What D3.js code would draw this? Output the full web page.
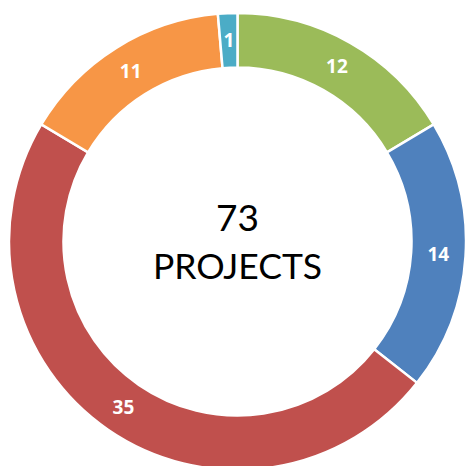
<!DOCTYPE html>
<html>
<head>
<meta charset="utf-8">
<script src="https://cdn.jsdelivr.net/npm/d3@7"></script>
<style>
body{margin:0;background:#fff;}
</style>
</head>
<body>
<svg></svg>
<script>
// slice data, clockwise from 12 o'clock
var labels = ["A","B","C","D","E"];
var counts = [12,14,35,11,1];
var colors = ["#9BBB59","#4F81BD","#C0504D","#F79646","#4BACC6"];
var centerLines = ["73","PROJECTS"];

var screen = {width:468,height:466};
var cx = 237.5, cy = 241.5;
var outerR = 228.5, innerR = 174;

var svg = d3.select("svg")
    .attr("width",screen.width)
    .attr("height",screen.height);

var target = svg.append("g")
    .attr("transform","translate("+cx+","+cy+")");

var pie = d3.pie().sort(null).value(function(d){return d;});
var arcGen = d3.arc().innerRadius(innerR).outerRadius(outerR);
var labelArc = d3.arc().innerRadius((innerR+outerR)/2).outerRadius((innerR+outerR)/2);

var slices = pie(counts);

target.selectAll("path")
    .data(slices)
    .enter()
    .append("path")
    .attr("d",arcGen)
    .attr("fill",function(d,i){return colors[i];})
    .attr("stroke","#fff")
    .attr("stroke-width",2.5);

target.selectAll("text.lab")
    .data(slices)
    .enter()
    .append("text")
    .attr("class","lab")
    .attr("transform",function(d){
        var c = labelArc.centroid(d);
        return "translate("+c[0]+","+c[1]+")";
    })
    .attr("text-anchor","middle")
    .attr("dy","0.36em")
    .attr("font-family","'Open Sans', sans-serif")
    .attr("font-weight","bold")
    .attr("font-size",19)
    .attr("fill","#fff")
    .text(function(d){return d.data;});

target.append("text")
    .attr("x",0).attr("y",231-cy)
    .attr("text-anchor","middle")
    .attr("font-family","Lato, 'Open Sans', sans-serif")
    .attr("font-size",37)
    .attr("fill","#000")
    .text(centerLines[0]);

target.append("text")
    .attr("x",0).attr("y",279-cy)
    .attr("text-anchor","middle")
    .attr("font-family","Lato, 'Open Sans', sans-serif")
    .attr("font-size",35.5)
    .attr("fill","#000")
    .text(centerLines[1]);
</script>
</body>
</html>
